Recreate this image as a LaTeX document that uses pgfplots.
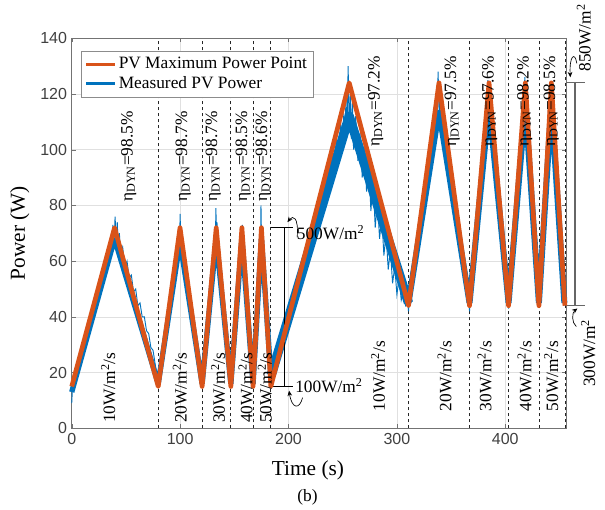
\documentclass[border=0pt]{standalone}
\usepackage{fontspec}
\setmainfont{Liberation Serif}
\newfontfamily\ticksf{Liberation Sans}
\usepackage{pgfplots}
\pgfplotsset{compat=1.18}
\usetikzlibrary{arrows.meta}
\definecolor{mpp}{HTML}{D95319}
\definecolor{meas}{HTML}{0072BD}
\newcommand{\ann}{\fontsize{13}{15}\selectfont}
\begin{document}
\begin{tikzpicture}
\begin{axis}[
 scale only axis, width=370.7pt, height=292.5pt,
 xmin=0, xmax=456, ymin=0, ymax=140,
 xtick={0,100,200,300,400}, ytick={0,20,...,140},
 grid=major, major grid style={black!12, line width=0.5pt},
 axis line style={black!55}, tick style={black!55}, major tick length=3pt,
 tick label style={font=\ticksf\fontsize{12}{14}\selectfont, text=black!75},
 /pgf/number format/assume math mode=true,
 xlabel={Time (s)}, ylabel={Power (W)},
 label style={font=\fontsize{16}{18}\selectfont},
 xlabel style={at={(axis description cs:0.478,-0.07)}, anchor=north},
 ylabel style={at={(axis description cs:-0.076,0.5)}, anchor=south},
 clip=false,
 legend style={at={(0.019,0.967)}, anchor=north west, draw=black!45,
   font=\fontsize{13}{15}\selectfont, inner sep=2.5pt, row sep=0.5pt},
 legend cell align=left,
 legend image code/.code={\draw[#1] (0cm,0cm) -- (0.75cm,0cm);},
]
\addlegendimage{mpp, line width=2.2pt}
\addlegendentry{PV Maximum Power Point}
\addlegendimage{meas, line width=2.2pt}
\addlegendentry{Measured PV Power}

\pgfplotsinvokeforeach{79.8,120.3,146.8,167.3,183.7,310.7,367,403,431,455.2}{
 \addplot[black!85, line width=0.6pt, dash pattern=on 2.5pt off 2pt, forget plot] coordinates {(#1,0) (#1,140)};
}

% measured PV power: band
\addplot[meas, line width=4pt, line join=bevel, forget plot] coordinates {
(0,13) (39.5,68) (79.8,16) (99.9,67) (120.3,16) (133.3,68) (146.8,16) (157,68) (167.3,16) (175,68) (183.7,19)};
\addplot[meas, line width=7pt, line join=round, forget plot] coordinates {
(184,19) (256,112) (310.7,45)};
\addplot[meas, line width=4.5pt, line join=bevel, forget plot] coordinates {
(310.7,45) (338.8,114) (367,45) (385,116) (403,45) (418.5,116) (431,45) (442.5,116) (454.5,45)};

% measured PV power: noisy trace
\addplot[meas, line width=0.7pt, forget plot] coordinates {
(0,9) (1,17) (3,19) (5,23) (7,24) (9,29) (11,31) (13,34) (15,37) (17,40) (19,42) (21,46) (23,47) (25,51) (27,52) (29,57) (31,58) (33,62) (35,63) (36,69) (37,64) (38,73) (39,66) (40,76) (41,67) (42,74) (43,64) (44,70) (45,62) (47,65) (49,58) (51,60) (53,54) (55,55) (57,49) (59,50) (61,44) (63,45) (65,40) (67,40) (69,35) (71,34) (73,29) (75,28) (77,23) (79,18)
(80,16) (82,20) (84,27) (86,29) (88,36) (90,41) (92,47) (94,53) (96,58) (97,63) (98,62) (99,72) (99.5,66) (100,77) (100.5,68) (101,72) (102,64) (104,62) (106,53) (108,50) (110,43) (112,39) (114,32) (116,27) (118,22) (120,16)
(121,17) (123,25) (125,35) (127,43) (129,54) (131,62) (132,68) (132.5,65) (133,79) (133.5,70) (134,74) (135,66) (137,58) (139,50) (141,41) (143,33) (145,23) (146.5,16)
(147.5,18) (149,25) (151,38) (153,48) (155,60) (156,66) (156.5,72) (157,67) (157.5,73) (158,66) (160,56) (162,45) (164,33) (166,22) (167,16)
(168,19) (170,32) (172,48) (173.5,61) (174.3,70) (174.6,80) (175,70) (175.5,72) (176,66) (178,51) (180,37) (182,25) (183.5,20)
(184,22) (186,20) (188,27) (190,25) (192,33) (194,31) (196,39) (198,36) (200,44) (202,42) (204,49) (206,46) (208,54) (210,52) (212,60) (214,56) (216,64) (218,62) (220,70) (222,66) (224,75) (226,72) (228,81) (230,76) (232,87) (234,82) (236,93) (238,87) (240,99) (242,92) (244,104) (246,96) (248,110) (250,100) (251,113) (252,104) (253,118) (254,106) (255,130) (256,108) (257,120) (258,104) (259,118) (260,100) (262,112) (264,96) (266,106) (268,90) (270,101) (272,85) (274,95) (276,78) (278,89) (280,72) (282,82) (284,68) (286,76) (288,62) (290,70) (292,57) (294,64) (296,52) (298,58) (300,48) (302,54) (304,46) (306,49) (308,44) (310,45) (310.7,42)
(312,48) (314,52) (316,60) (318,61) (320,70) (322,72) (324,81) (326,82) (328,92) (330,93) (332,103) (334,104) (336,116) (337,110) (338,128) (339,112) (340,121) (341,108) (342,114) (344,104) (346,101) (348,96) (350,90) (352,87) (354,82) (356,76) (358,72) (360,66) (362,60) (364,55) (366,47) (367,42)
(368,48) (370,54) (372,63) (374,71) (376,80) (378,89) (380,98) (382,110) (383,112) (384,125) (384.5,118) (385,122) (386,114) (388,111) (390,100) (392,92) (394,82) (396,74) (398,66) (400,56) (402,49) (403,43)
(404,48) (406,56) (408,67) (410,77) (412,88) (414,98) (416,110) (417,114) (418,126) (418.5,119) (419,122) (420,112) (422,101) (424,90) (426,78) (428,64) (430,52) (431,44)
(432,50) (434,58) (436,73) (438,86) (440,100) (441,108) (442,120) (442.5,114) (443,118) (444,110) (446,99) (448,85) (450,72) (452,60) (454,47) (455,44)};

% brackets
\draw[black, line width=0.6pt] (axis cs:184.3,72) -- (axis cs:204,72)
  (axis cs:196,72) -- (axis cs:196,15) (axis cs:184.3,15) -- (axis cs:204,15);
\draw[black!60, line width=0.8pt] (axis cs:455.8,124) -- (axis cs:473.5,124)
  (axis cs:464.3,124) -- (axis cs:464.3,44) (axis cs:455.8,44) -- (axis cs:473.5,44);

% PV MPP
\addplot[mpp, line width=3.5pt, line join=round, forget plot] coordinates {
(0,15) (39.5,72) (79.8,15) (99.9,72) (120.3,15) (133.3,72) (146.8,15) (157,72) (167.3,15) (175,72) (183.7,15)
(256,124) (310.7,44) (338.8,124) (367,44) (385,124) (403,44) (418.5,124) (431,44) (442.5,124) (455,44)};

% efficiency labels
\foreach \xx/\tt in {52.5/98.5, 102.9/98.7, 130.5/98.7, 158.2/98.5, 176.6/98.6}{
 \edef\tmp{\noexpand\node[rotate=90, anchor=west, inner sep=0pt, font=\noexpand\ann] at (axis cs:\xx,81.2) {η\noexpand\textsubscript{DYN}=\tt\noexpand\%};}\tmp
}
\foreach \xx/\tt in {280.5/97.2, 351/97.5, 385.5/97.6, 417.8/98.2, 442.4/98.5}{
 \edef\tmp{\noexpand\node[rotate=90, anchor=west, inner sep=0pt, font=\noexpand\ann] at (axis cs:\xx,101) {η\noexpand\textsubscript{DYN}=\tt\noexpand\%};}\tmp
}
% rate labels
\foreach \xx/\rr in {33.7/10, 99.8/20, 135/30, 160.4/40, 178.2/50}{
 \edef\tmp{\noexpand\node[rotate=90, anchor=west, inner sep=0pt, font=\noexpand\ann] at (axis cs:\xx,1.8) {\rr W/m\noexpand\textsuperscript{2}/s};}\tmp
}
\foreach \xx/\rr in {282.6/10, 344/20, 380.9/30, 417.8/40, 442.4/50}{
 \edef\tmp{\noexpand\node[rotate=90, anchor=west, inner sep=0pt, font=\noexpand\ann] at (axis cs:\xx,6) {\rr W/m\noexpand\textsuperscript{2}/s};}\tmp
}

% irradiance labels
\node[anchor=west, inner sep=0pt, font=\ann] at (axis cs:207.5,70.3) {500W/m\textsuperscript{2}};
\node[anchor=west, inner sep=0pt, font=\ann] at (axis cs:206,15.2) {100W/m\textsuperscript{2}};
\node[rotate=90, anchor=west, inner sep=0pt, font=\ann] at (axis cs:472.4,128) {850W/m\textsuperscript{2}};
\node[rotate=90, anchor=west, inner sep=0pt, font=\ann] at (axis cs:476.5,14.8) {300W/m\textsuperscript{2}};
\draw[-{Stealth[length=4pt,width=3.5pt]}, line width=0.5pt] (axis cs:208,68.5) .. controls (axis cs:209.5,76) and (axis cs:204,76.5) .. (axis cs:199,74);
\draw[-{Stealth[length=4pt,width=3.5pt]}, line width=0.5pt] (axis cs:213,11) .. controls (axis cs:210,6.5) and (axis cs:203,7) .. (axis cs:200.5,13.5);
\draw[-{Stealth[length=4pt,width=3.5pt]}, line width=0.5pt] (axis cs:466,131) .. controls (axis cs:464,135.5) and (axis cs:459,133.5) .. (axis cs:460,126);
\draw[-{Stealth[length=4pt,width=3.5pt]}, line width=0.5pt] (axis cs:465.5,36.5) .. controls (axis cs:461,38) and (axis cs:461.5,41.5) .. (axis cs:466.5,43);

\node[font=\fontsize{13}{15}\selectfont] at (axis description cs:0.477,-0.177) {(b)};
\coordinate (sw) at (rel axis cs:0,0);
\coordinate (ne) at (rel axis cs:1,1);
\end{axis}
\pgfresetboundingbox
\path ([xshift=-53.8pt,yshift=-61.3pt]sw) rectangle ([xshift=29.25pt,yshift=28.7pt]ne);
\end{tikzpicture}
\end{document}
